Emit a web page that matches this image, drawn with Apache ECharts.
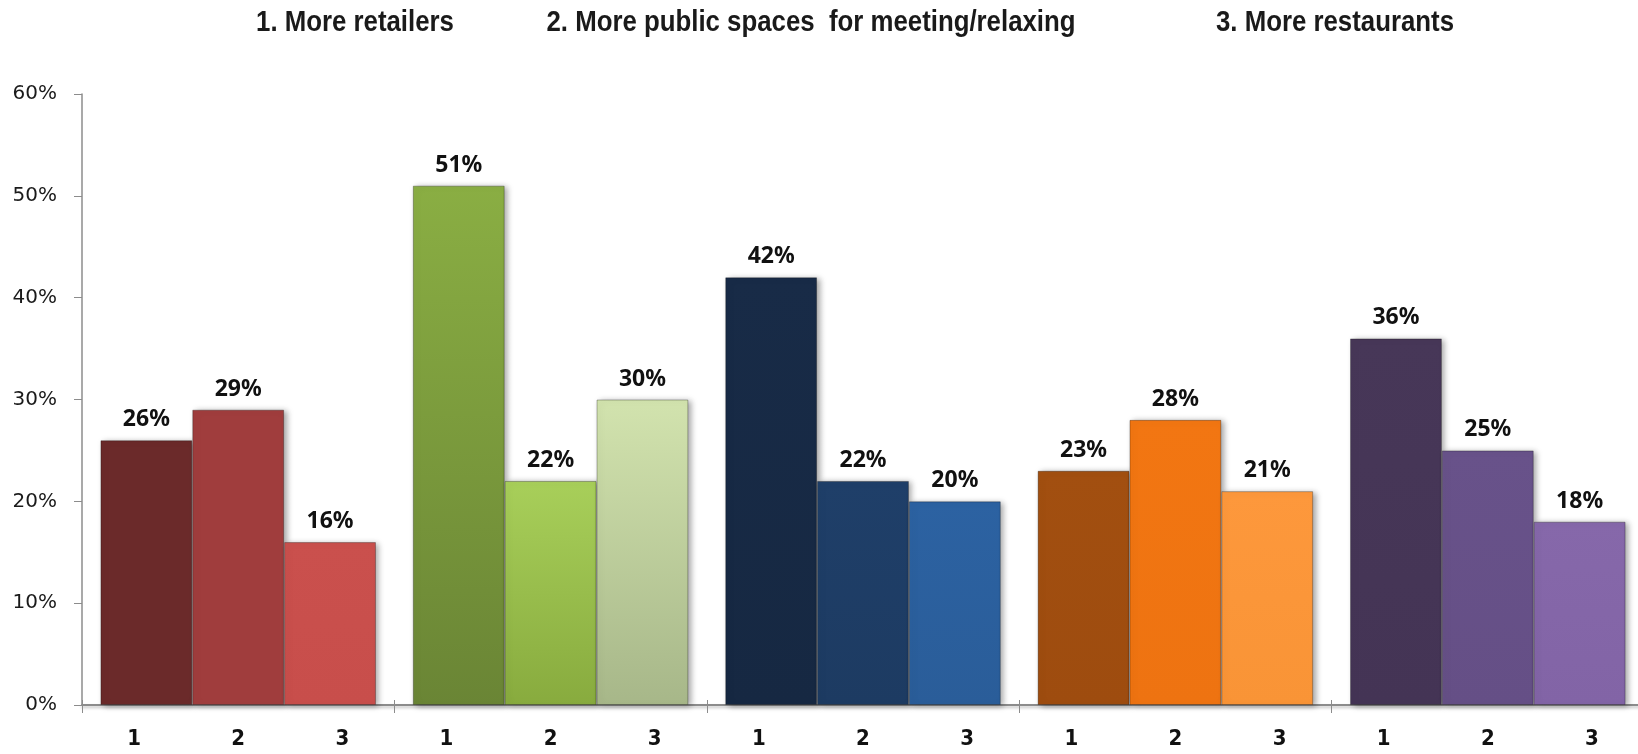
<!DOCTYPE html>
<html>
<head>
<meta charset="utf-8">
<title>Survey ranking by segment</title>
<script src="https://cdn.jsdelivr.net/npm/echarts@6/dist/echarts.min.js"></script>
<style>
  html, body { margin: 0; padding: 0; background: #ffffff; }
  #chart { width: 1638px; height: 754px; }
</style>
</head>
<body>
<div id="chart"></div>
<script>
// Five respondent segments, each with three ranked answers
const segments = ['Segment A', 'Segment B', 'Segment C', 'Segment D', 'Segment E'];

// Answer headings shown across the top
const answerNames = [
  '1. More retailers',
  '2. More public spaces  for meeting/relaxing',
  '3. More restaurants'
];

// Share of respondents (%) per answer, one value per segment
const answer1 = [26, 51, 42, 23, 36];
const answer2 = [29, 22, 22, 28, 25];
const answer3 = [16, 30, 20, 21, 18];

// Rank labels printed under each bar
const rankLabels = ['1', '2', '3'];

// Y axis ticks
const yTicks = [0, 10, 20, 30, 40, 50, 60];

// Colour family per segment: [answer 1, answer 2, answer 3], top/bottom shade
const palette = [
  [['#6b2a2a', '#6b2a2a'], ['#a03d3d', '#a03d3d'], ['#ca504d', '#c84e4b']],
  [['#8aae43', '#6a8535'], ['#a8cf5a', '#88ab3e'], ['#d2e3ae', '#a7b789']],
  [['#182b47', '#162842'], ['#1f3f69', '#1d3b62'], ['#2c62a2', '#2a5d99']],
  [['#a24f10', '#9e4c0f'], ['#f27612', '#ee7311'], ['#fd983c', '#f99436']],
  [['#473758', '#443455'], ['#68528a', '#654f86'], ['#8668aa', '#8264a6']]
];

const answers = [answer1, answer2, answer3];

function fill(pair) {
  return {
    type: 'linear', x: 0, y: 0, x2: 0, y2: 1,
    colorStops: [{ offset: 0, color: pair[0] }, { offset: 1, color: pair[1] }]
  };
}

const series = answers.map(function (values, k) {
  return {
    name: answerNames[k],
    type: 'bar',
    xAxisIndex: 0,
    barGap: '0%',
    barCategoryGap: '11.8%',
    data: values.map(function (v, g) {
      return {
        value: v,
        itemStyle: {
          color: fill(palette[g][k]),
          borderColor: 'rgba(0,0,0,0.28)',
          borderWidth: 1,
          shadowColor: 'rgba(0,0,0,0.35)',
          shadowBlur: 6,
          shadowOffsetX: 3,
          shadowOffsetY: 1
        }
      };
    }),
    label: {
      show: true,
      position: 'top',
      distance: 9,
      formatter: '{c}%',
      fontFamily: '"Noto Sans", "Open Sans", sans-serif',
      fontWeight: 'bold',
      fontSize: 23,
      color: '#111111'
    }
  };
});

// Headings: condensed bold text centred over the plot
const headingX = [355, 811, 1335];
const headings = answerNames.map(function (t, i) {
  return {
    type: 'text',
    x: headingX[i],
    y: 23,
    scaleX: 0.86,
    silent: true,
    style: {
      text: t,
      fontFamily: '"Liberation Sans", Arial, sans-serif',
      fontWeight: 'bold',
      fontSize: 30,
      fill: '#1a1a1a',
      align: 'center',
      verticalAlign: 'middle',
      textAlign: 'center',
      textVerticalAlign: 'middle',
      shadowColor: 'rgba(0,0,0,0.18)',
      shadowBlur: 2
    }
  };
});

const rankAxisData = [];
segments.forEach(function () { rankLabels.forEach(function (r) { rankAxisData.push(r); }); });

const chart = echarts.init(document.getElementById('chart'), null, { renderer: 'canvas' });

chart.setOption({
  backgroundColor: '#ffffff',
  animation: false,
  graphic: headings,
  grid: {
    left: 82, right: -6, top: 94, bottom: 49,
    containLabel: false,
    outerBoundsMode: 'none'
  },
  xAxis: [
    {
      type: 'category',
      data: segments,
      position: 'bottom',
      axisLine: {
        show: true,
        lineStyle: { color: '#8c8c8c', width: 2, shadowColor: 'rgba(0,0,0,0.25)', shadowBlur: 3, shadowOffsetY: 2 }
      },
      axisTick: { show: true, length: 8, lineStyle: { color: '#8c8c8c', width: 1 } },
      axisLabel: { show: false }
    },
    {
      type: 'category',
      data: segments,
      position: 'bottom',
      axisLine: { show: false },
      axisTick: { show: true, inside: true, length: 5, lineStyle: { color: '#8c8c8c', width: 1 } },
      axisLabel: { show: false }
    },
    {
      type: 'category',
      data: rankAxisData,
      position: 'bottom',
      axisLine: { show: false },
      axisTick: { show: false },
      axisLabel: {
        show: true,
        interval: 0,
        margin: 23,
        fontFamily: '"DejaVu Sans Condensed", "Liberation Sans", sans-serif',
        fontWeight: 'bold',
        fontSize: 22,
        color: '#111111'
      }
    }
  ],
  yAxis: {
    type: 'value',
    min: yTicks[0],
    max: yTicks[yTicks.length - 1],
    interval: 10,
    axisLine: { show: true, lineStyle: { color: '#8c8c8c', width: 1.5 } },
    axisTick: { show: true, length: 8, lineStyle: { color: '#8c8c8c' } },
    splitLine: { show: false },
    axisLabel: {
      formatter: '{value}%',
      margin: 25,
      fontFamily: '"DejaVu Sans", sans-serif',
      fontSize: 20,
      color: '#1a1a1a'
    }
  },
  series: series
});
</script>
</body>
</html>
